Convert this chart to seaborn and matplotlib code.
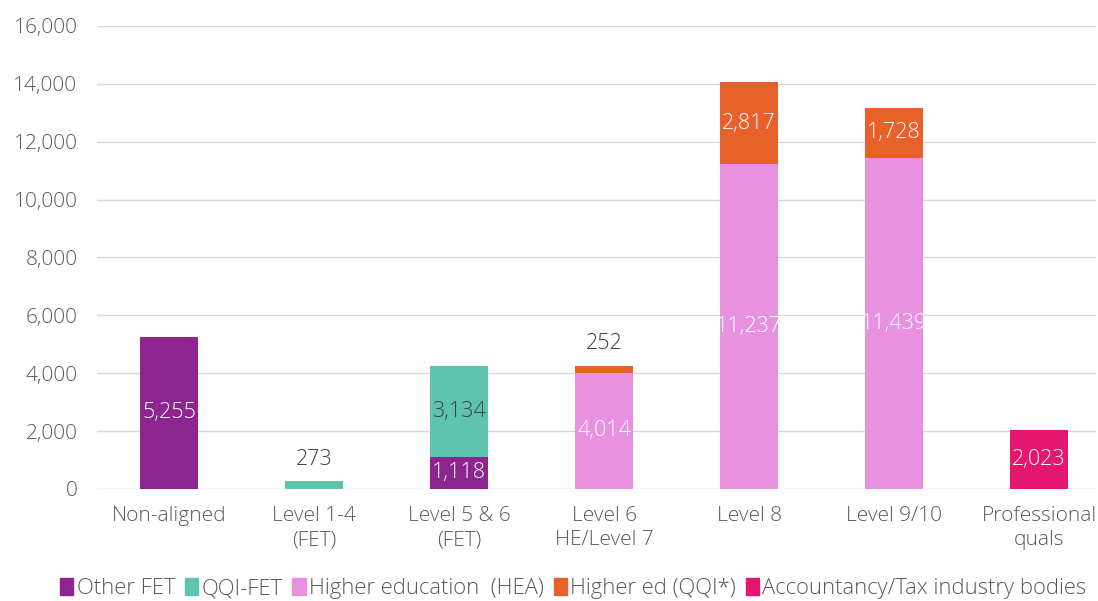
import matplotlib
matplotlib.use('Agg')
import matplotlib.pyplot as plt
import seaborn as sns
import numpy as np
from matplotlib.patches import Patch

# datos del gráfico
categorias = ['Non-aligned', 'Level 1-4\n(FET)', 'Level 5 & 6\n(FET)', 'Level 6\nHE/Level 7',
              'Level 8', 'Level 9/10', 'Professional\nquals']
other_fet = [5255, 0, 1118, 0, 0, 0, 0]
qqi_fet = [0, 273, 3134, 0, 0, 0, 0]
hea = [0, 0, 0, 4014, 11237, 11439, 0]
qqi_he = [0, 0, 0, 252, 2817, 1728, 0]
accountancy = [0, 0, 0, 0, 0, 0, 2023]
series_names = ['Other FET', 'QQI-FET', 'Higher education  (HEA)', 'Higher ed (QQI*)',
                'Accountancy/Tax industry bodies']

colores = ['#8E248F', '#5EC4AE', '#E891E0', '#E8602A', '#E5166F']
series = [other_fet, qqi_fet, hea, qqi_he, accountancy]

sns.set_style('white')
plt.rcParams['font.family'] = ['Open Sans', 'DejaVu Sans']
plt.rcParams['font.weight'] = 'light'

fig = plt.figure(figsize=(10.98, 6.01), dpi=100)
ax = fig.add_axes([0.0883, 0.1864, 0.9100, 0.7704])

# barras apiladas: se dibujan los acumulados de mayor a menor
acum = np.cumsum(np.array(series), axis=0)
for k in range(len(series) - 1, -1, -1):
    sns.barplot(x=list(range(len(categorias))), y=acum[k], color=colores[k], width=0.4,
                linewidth=0, saturation=1, ax=ax, native_scale=True)

# etiquetas de valores
gris = '#404040'
for i in range(len(categorias)):
    base = 0
    for k, s in enumerate(series):
        v = s[i]
        if v == 0:
            continue
        txt = f'{v:,}'
        if v < 600:
            ax.annotate(txt, (i, base + v), xytext=(0, 8), textcoords='offset points',
                        ha='center', va='bottom', fontsize=15.5, color=gris)
        else:
            c = gris if k == 1 else 'white'
            ax.text(i, base + v / 2, txt, ha='center', va='center', fontsize=15.5, color=c)
        base += v

ax.set_ylim(0, 16000)
ax.set_xlim(-0.497, 6.393)
ax.set_yticks(range(0, 16001, 2000))
ax.set_yticklabels([f'{t:,}' for t in range(0, 16001, 2000)])
ax.set_xticks(range(len(categorias)))
ax.set_xticklabels(categorias, linespacing=1.3)
ax.tick_params(axis='y', labelsize=15, labelcolor='#595959', length=0, pad=14)
ax.tick_params(axis='x', labelsize=15, labelcolor='#595959', length=0, pad=12)
ax.yaxis.grid(True, color='#D9D9D9', linewidth=1)
ax.set_axisbelow(True)
for sp in ax.spines.values():
    sp.set_visible(False)
ax.set_xlabel('')
ax.set_ylabel('')

handles = [Patch(color=c, label=n) for c, n in zip(colores, series_names)]
fig.legend(handles=handles, loc='lower center', bbox_to_anchor=(0.522, -0.03), ncol=5,
           frameon=False, fontsize=15.8, handlelength=0.6, handleheight=0.8,
           handletextpad=0.15, columnspacing=0.45, labelcolor='#595959')

fig.savefig('out.png', dpi=100)
